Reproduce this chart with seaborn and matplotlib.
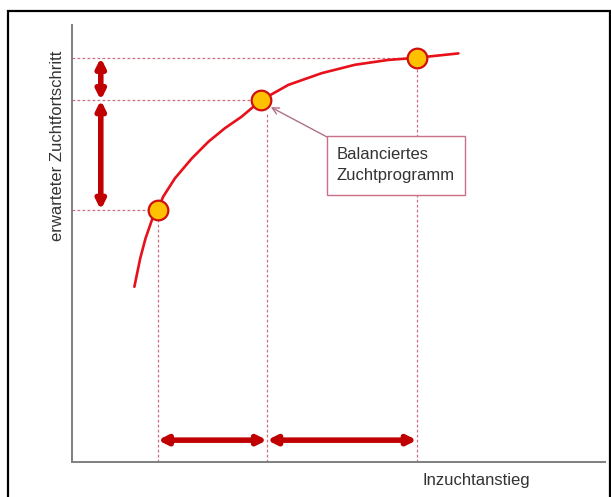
import matplotlib
matplotlib.use("Agg")
import matplotlib.pyplot as plt
import seaborn as sns
import pandas as pd
from matplotlib.patches import Rectangle

# ---- data (arbitrary units 0..10) ----
curve_x = [1.17, 1.28, 1.38, 1.50, 1.61, 1.71, 1.93, 2.25, 2.56, 2.87, 3.18,
           3.55, 4.06, 4.69, 5.31, 5.93, 6.47, 7.25]
curve_y = [4.01, 4.66, 5.12, 5.54, 5.77, 6.07, 6.49, 6.95, 7.33, 7.64, 7.90,
           8.28, 8.63, 8.90, 9.09, 9.20, 9.25, 9.35]
point_x = [1.61, 3.55, 6.47]
point_y = [5.77, 8.28, 9.25]
guide_x = [1.61, 3.66, 6.47]          # vertical guide lines
guide_top = [5.55, 8.00, 9.25]
annotation_text = "Balanciertes\nZuchtprogramm"
x_label = "Inzuchtanstieg"
y_label = "erwarteter Zuchtfortschritt"

sns.set_theme(style="white")
plt.rcParams["font.family"] = ["Liberation Sans", "DejaVu Sans"]

fig = plt.figure(figsize=(6.11, 4.97), dpi=100)
ax = fig.add_axes([72 / 611, 35 / 497, 533 / 611, 437 / 497])
ax.set_xlim(0, 10)
ax.set_ylim(0, 10)

curve = pd.DataFrame({"x": curve_x, "y": curve_y})
pts = pd.DataFrame({"x": point_x, "y": point_y})

guide_col = "#CC6F80"
# horizontal guides
for px, py in zip(point_x, point_y):
    ax.plot([0, px], [py, py], color=guide_col, lw=0.9, ls=(0, (2.2, 1.8)), zorder=1)
# vertical guides
for gx, gt in zip(guide_x, guide_top):
    ax.plot([gx, gx], [0, gt], color=guide_col, lw=0.9, ls=(0, (2.2, 1.8)), zorder=1)

sns.lineplot(data=curve, x="x", y="y", ax=ax, color="#E8101A", lw=1.9,
             sort=False, zorder=3)
sns.scatterplot(data=pts, x="x", y="y", ax=ax, s=200, color="#FFC000",
                edgecolor="#D01010", linewidth=1.6, zorder=4)

arrow_col = "#C00000"
aprops = dict(arrowstyle="<|-|>", color=arrow_col, lw=4.0, mutation_scale=13,
              shrinkA=0, shrinkB=0)
# vertical double arrows
ax.annotate("", xy=(0.54, point_y[2]), xytext=(0.54, point_y[1]), arrowprops=aprops)
ax.annotate("", xy=(0.54, point_y[1]), xytext=(0.54, point_y[0]), arrowprops=aprops)
# horizontal double arrows
ax.annotate("", xy=(guide_x[0], 0.50), xytext=(guide_x[1], 0.50), arrowprops=aprops)
ax.annotate("", xy=(guide_x[1], 0.50), xytext=(guide_x[2], 0.50), arrowprops=aprops)

# annotation box
ax.add_patch(Rectangle((4.78, 6.11), 2.59, 1.35, facecolor="white",
                       edgecolor="#C87088", lw=1.0, zorder=5))
ax.text(4.97, 6.80, annotation_text, fontsize=12, color="#333333",
        ha="left", va="center", linespacing=1.45, zorder=6)
ax.annotate("", xy=(3.73, 8.12), xytext=(4.78, 7.44),
            arrowprops=dict(arrowstyle="->", color="#B07088", lw=1.0,
                            shrinkA=0, shrinkB=0), zorder=5)

ax.set_xlabel("")
ax.set_ylabel("")
ax.set_xticks([])
ax.set_yticks([])
for s in ["top", "right"]:
    ax.spines[s].set_visible(False)
for s in ["left", "bottom"]:
    ax.spines[s].set_color("#7F7F7F")
    ax.spines[s].set_linewidth(1.4)

fig.text(476 / 611, 1 - 481 / 497, x_label, fontsize=12, color="#333333",
         ha="center", va="center")
fig.text(58 / 611, 1 - 146 / 497, y_label, fontsize=12, color="#333333",
         ha="center", va="center", rotation=90)

# outer frame
fig.patches.append(Rectangle((8 / 611, -0.05), 602 / 611, 1.05 - 11 / 497,
                             transform=fig.transFigure, fill=False,
                             edgecolor="black", lw=1.6))

fig.savefig("out.png", dpi=100)
